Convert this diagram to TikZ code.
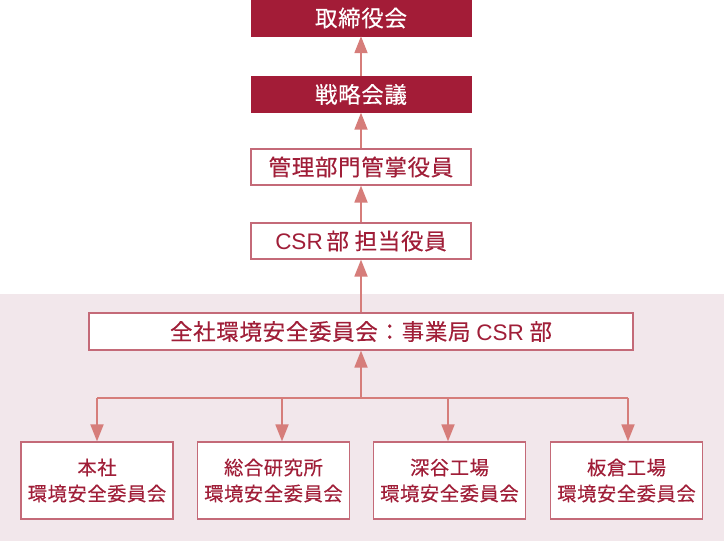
\documentclass[tikz,border=0pt]{standalone}
\usepackage{fontspec}
\setmainfont{Noto Sans CJK JP}
\newfontfamily\jpfont[LetterSpace=3,FakeBold=0.3]{Noto Sans CJK JP}
\newfontfamily\latfont{Liberation Sans}
\usetikzlibrary{arrows.meta}
\definecolor{darkred}{HTML}{A31C37}
\definecolor{txtred}{HTML}{A01E38}
\definecolor{bordred}{HTML}{C46A78}
\definecolor{arrowred}{HTML}{D67D7A}
\definecolor{bgpink}{HTML}{F2E7EB}
\newcommand{\csrtxt}{{\latfont CSR}}
\begin{document}
\begin{tikzpicture}[x=1pt,y=-1pt,
  filledbox/.style={fill=darkred, draw=darkred, text=white,
    font=\jpfont\fontsize{22.5}{26}\selectfont,
    minimum width=220pt, minimum height=36pt, inner sep=0pt},
  whitebox/.style={fill=white, draw=bordred, line width=1.2pt, text=txtred,
    font=\jpfont\fontsize{22.5}{26}\selectfont,
    minimum width=220pt, minimum height=36pt, inner sep=0pt},
  unitbox/.style={whitebox, font=\jpfont\fontsize{19.3}{26}\selectfont,
    minimum width=152pt, minimum height=77pt, align=center},
  conn/.style={draw=arrowred, line width=1.8pt},
  tipped/.style={conn, -{Triangle[length=17pt,width=13pt]}}
]
\useasboundingbox (0,0) rectangle (724,541);
\fill[bgpink] (0,294) rectangle (724,541);

\node[filledbox] (board) at (361,18) {取締役会};
\node[filledbox] (strategy) at (361,94.5) {戦略会議};
\node[whitebox] (mgmt) at (361,167) {管理部門管掌役員};
\node[whitebox] (csr) at (361,241) {\csrtxt\,部 担当役員};
\node[whitebox, minimum width=544pt, minimum height=37pt] (committee) at (361,331.5) {全社環境安全委員会：事業局 \csrtxt{} 部};

\node[unitbox] (u1) at (97,480.5) {本社\\環境安全委員会};
\node[unitbox] (u2) at (273.5,480.5) {総合研究所\\環境安全委員会};
\node[unitbox] (u3) at (449.5,480.5) {深谷工場\\環境安全委員会};
\node[unitbox] (u4) at (626.5,480.5) {板倉工場\\環境安全委員会};

\draw[tipped] (strategy.north) -- (board.south);
\draw[tipped] (mgmt.north) -- (strategy.south);
\draw[tipped] (csr.north) -- (mgmt.south);
\draw[tipped] (committee.north) -- (csr.south);

\coordinate (jn) at (361,398);
\coordinate (b1) at (97,398);
\coordinate (b2) at (282,398);
\coordinate (b3) at (448,398);
\coordinate (b4) at (628,398);
\draw[tipped] (jn) -- (committee.south);
\draw[conn] (b1) -- (b4);
\draw[tipped] (b1) -- (b1 |- u1.north);
\draw[tipped] (b2) -- (b2 |- u2.north);
\draw[tipped] (b3) -- (b3 |- u3.north);
\draw[tipped] (b4) -- (b4 |- u4.north);
\end{tikzpicture}
\end{document}
